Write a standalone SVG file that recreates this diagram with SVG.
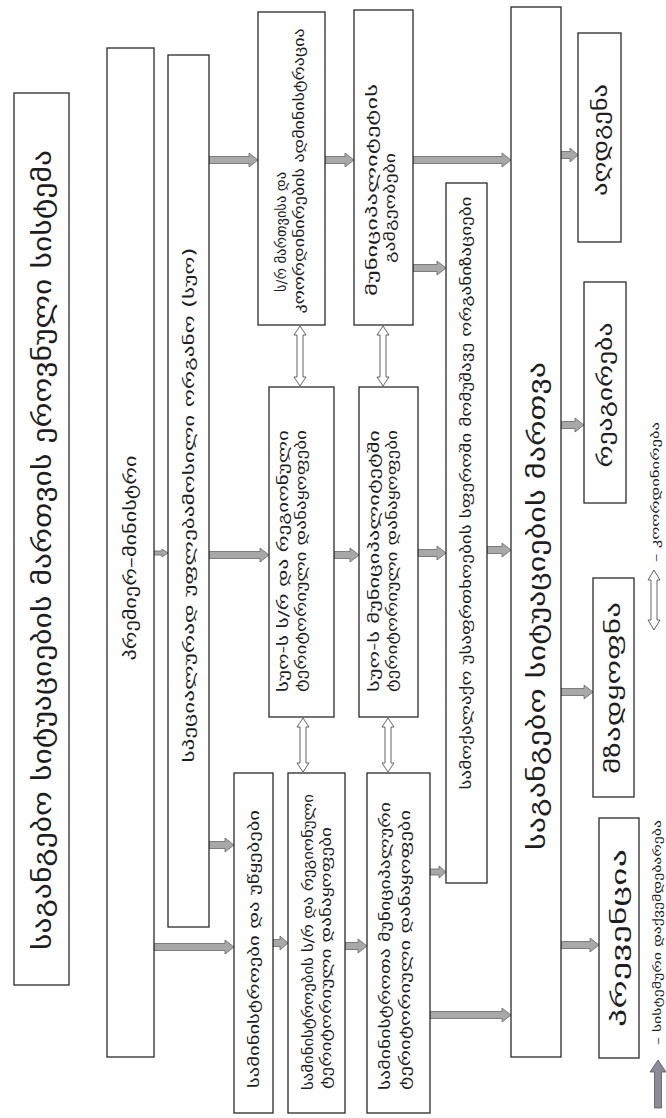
<svg xmlns="http://www.w3.org/2000/svg" width="666" height="1118" viewBox="0 0 666 1118">
<style>
.box{fill:#fff;stroke:#2a2a2a;stroke-width:1.3}
.t{font-family:"DejaVu Sans",sans-serif;fill:#1e1e1e;text-anchor:middle;dominant-baseline:central}
.ts{font-family:"DejaVu Sans",sans-serif;fill:#1e1e1e;text-anchor:start;dominant-baseline:central}
.f26{font-size:26px}.f24{font-size:24px}.f20{font-size:20px}.f17{font-size:17px}.f15{font-size:15px}.f13{font-size:13.5px}.f9{font-size:10px}
.ba{fill:#a8a8a8;stroke:#666;stroke-width:0.8}
.da{fill:#fff;stroke:#555;stroke-width:0.9}
.lg{fill:#8d8b98;stroke:#555;stroke-width:0.8}
</style>
<rect width="666" height="1118" fill="#fff"/>
<g id="connectors">
<polygon class="ba" points="209,156.5 249,156.5 249,153 258,160 249,167 249,163.5 209,163.5"/>
<polygon class="ba" points="325,156.5 345,156.5 345,153 354,160 345,167 345,163.5 325,163.5"/>
<polygon class="ba" points="413,156.5 502,156.5 502,153 511,160 502,167 502,163.5 413,163.5"/>
<polygon class="ba" points="413,264.5 437,264.5 437,261 446,268 437,275 437,271.5 413,271.5"/>
<polygon class="ba" points="561,151.5 570,151.5 570,148 578,155 570,162 570,158.5 561,158.5"/>
<polygon class="ba" points="561,421.5 575,421.5 575,418 584,425 575,432 575,428.5 561,428.5"/>
<polygon class="ba" points="561,688.5 584,688.5 584,685 593,692 584,699 584,695.5 561,695.5"/>
<polygon class="ba" points="561,941.5 590,941.5 590,938 599,945 590,952 590,948.5 561,948.5"/>
<polygon class="ba" points="154,551 162,551 162,549 168,553 162,557 162,555 154,555"/>
<polygon class="ba" points="209,551.5 260,551.5 260,548 269,555 260,562 260,558.5 209,558.5"/>
<polygon class="ba" points="334,551.5 350,551.5 350,548 359,555 350,562 350,558.5 334,558.5"/>
<polygon class="ba" points="418,549.5 437,549.5 437,546 446,553 437,560 437,556.5 418,556.5"/>
<polygon class="ba" points="487,546.5 502,546.5 502,543 511,550 502,557 502,553.5 487,553.5"/>
<polygon class="ba" points="209,841.5 225,841.5 225,838 234,845 225,852 225,848.5 209,848.5"/>
<polygon class="ba" points="154,943.5 225,943.5 225,940 234,947 225,954 225,950.5 154,950.5"/>
<polygon class="ba" points="273,939.5 280,939.5 280,936 288,943 280,950 280,946.5 273,946.5"/>
<polygon class="ba" points="345,942.5 358,942.5 358,939 367,946 358,953 358,949.5 345,949.5"/>
<polygon class="ba" points="430,869 439,869 439,866 446,872 439,878 439,875 430,875"/>
<polygon class="ba" points="430,1011.5 502,1011.5 502,1008 511,1015 502,1022 502,1018.5 430,1018.5"/>
<polygon class="da" points="300,326 306,335 303,335 303,377 306,377 300,386 294,377 297,377 297,335 294,335"/>
<polygon class="da" points="383,326 389,335 386,335 386,377 389,377 383,386 377,377 380,377 380,335 377,335"/>
<polygon class="da" points="303,718 309,727 306,727 306,763 309,763 303,772 297,763 300,763 300,727 297,727"/>
<polygon class="da" points="388,718 394,727 391,727 391,763 394,763 388,772 382,763 385,763 385,727 382,727"/>
</g>
<g id="n-title"><rect class="box" x="14" y="93" width="55" height="892"/><text class="t f26" transform="translate(42,550) rotate(-90)" textLength="800" lengthAdjust="spacingAndGlyphs">საგანგებო სიტუაციების მართვის ეროვნული სისტემა</text></g>
<g id="n-pm"><rect class="box" x="107" y="48" width="47" height="1009"/><text class="t f17" transform="translate(130,558) rotate(-90)" textLength="205" lengthAdjust="spacingAndGlyphs">პრემიერ–მინისტრი</text></g>
<g id="n-suo"><rect class="box" x="168" y="55" width="41" height="872"/><text class="t f15" transform="translate(189,505) rotate(-90)" textLength="515" lengthAdjust="spacingAndGlyphs">სპეციალურად უფლებამოსილი ორგანო (სუო)</text></g>
<g id="n-a"><rect class="box" x="258" y="12" width="67" height="313"/>
<text class="t f13" transform="translate(281,232) rotate(-90)" textLength="120" lengthAdjust="spacingAndGlyphs">ს/რ მართვისა და</text>
<text class="t f13" transform="translate(299,171) rotate(-90)" textLength="285" lengthAdjust="spacingAndGlyphs">კოორდინირების ადმინისტრაცია</text></g>
<g id="n-b"><rect class="box" x="354" y="10" width="59" height="315"/>
<text class="t f13" transform="translate(372,190) rotate(-90)" textLength="212" lengthAdjust="spacingAndGlyphs">მუნიციპალიტეტის</text>
<text class="t f13" transform="translate(390,208) rotate(-90)" textLength="110" lengthAdjust="spacingAndGlyphs">გამგეობები</text></g>
<g id="n-c"><rect class="box" x="269" y="387" width="65" height="330"/>
<text class="t f13" transform="translate(283,561) rotate(-90)" textLength="262" lengthAdjust="spacingAndGlyphs">სუო-ს ს/რ და რეგიონული</text>
<text class="t f13" transform="translate(301,561) rotate(-90)" textLength="262" lengthAdjust="spacingAndGlyphs">ტერიტორიული დანაყოფები</text></g>
<g id="n-d"><rect class="box" x="359" y="387" width="59" height="330"/>
<text class="t f13" transform="translate(374,561) rotate(-90)" textLength="262" lengthAdjust="spacingAndGlyphs">სუო-ს მუნიციპალიტეტში</text>
<text class="t f13" transform="translate(392,561) rotate(-90)" textLength="262" lengthAdjust="spacingAndGlyphs">ტერიტორიული დანაყოფები</text></g>
<g id="n-e"><rect class="box" x="234" y="773" width="39" height="340"/>
<text class="t f13" transform="translate(254,949) rotate(-90)" textLength="278" lengthAdjust="spacingAndGlyphs">სამინისტროები და უწყებები</text></g>
<g id="n-f"><rect class="box" x="288" y="773" width="57" height="340"/>
<text class="t f13" transform="translate(308,942) rotate(-90)" textLength="296" lengthAdjust="spacingAndGlyphs">სამინისტროების ს/რ და რეგიონული</text>
<text class="t f13" transform="translate(326,958) rotate(-90)" textLength="262" lengthAdjust="spacingAndGlyphs">ტერიტორიული დანაყოფები</text></g>
<g id="n-g"><rect class="box" x="367" y="773" width="63" height="340"/>
<text class="t f13" transform="translate(385,946) rotate(-90)" textLength="288" lengthAdjust="spacingAndGlyphs">სამინისტროთა მუნიციპალური</text>
<text class="t f13" transform="translate(405,950) rotate(-90)" textLength="280" lengthAdjust="spacingAndGlyphs">ტერიტორიული დანაყოფები</text></g>
<g id="n-h"><rect class="box" x="446" y="183" width="41" height="700"/>
<text class="t f13" transform="translate(466,493) rotate(-90)" textLength="593" lengthAdjust="spacingAndGlyphs">სამოქალაქო უსაფრთხოების სფეროში მომუშავე ორგანიზაციები</text></g>
<g id="n-i"><rect class="box" x="511" y="7" width="50" height="1050"/>
<text class="t f24" transform="translate(537,606) rotate(-90)" textLength="488" lengthAdjust="spacingAndGlyphs">საგანგებო სიტუაციების მართვა</text></g>
<g id="n-j"><rect class="box" x="578" y="33" width="43" height="209"/><text class="t f20" transform="translate(600,140) rotate(-90)" textLength="112" lengthAdjust="spacingAndGlyphs">აღდგენა</text></g>
<g id="n-k"><rect class="box" x="584" y="282" width="42" height="221"/><text class="t f20" transform="translate(605,395) rotate(-90)" textLength="145" lengthAdjust="spacingAndGlyphs">რეაგირება</text></g>
<g id="n-l"><rect class="box" x="593" y="578" width="41" height="219"/><text class="t f20" transform="translate(613,688) rotate(-90)" textLength="172" lengthAdjust="spacingAndGlyphs">მზადყოფნა</text></g>
<g id="n-m"><rect class="box" x="599" y="818" width="40" height="240"/><text class="t f20" transform="translate(619,938) rotate(-90)" textLength="178" lengthAdjust="spacingAndGlyphs">პრევენცია</text></g>
<g id="legend">
<polygon class="lg" points="654.5,1108 654.5,1072 650,1072 658,1060 666,1072 661.5,1072 661.5,1108"/>
<text class="ts f9" transform="translate(657,1045) rotate(-90)" textLength="225" lengthAdjust="spacingAndGlyphs">–   სისტემური დაქვემდებარება</text>
<polygon class="da" points="654,570 660,580 657,580 657,620 660,620 654,630 648,620 651,620 651,580 648,580"/>
<text class="ts f9" transform="translate(655,562) rotate(-90)" textLength="140" lengthAdjust="spacingAndGlyphs">–   კოორდინირება</text>
</g>
</svg>
